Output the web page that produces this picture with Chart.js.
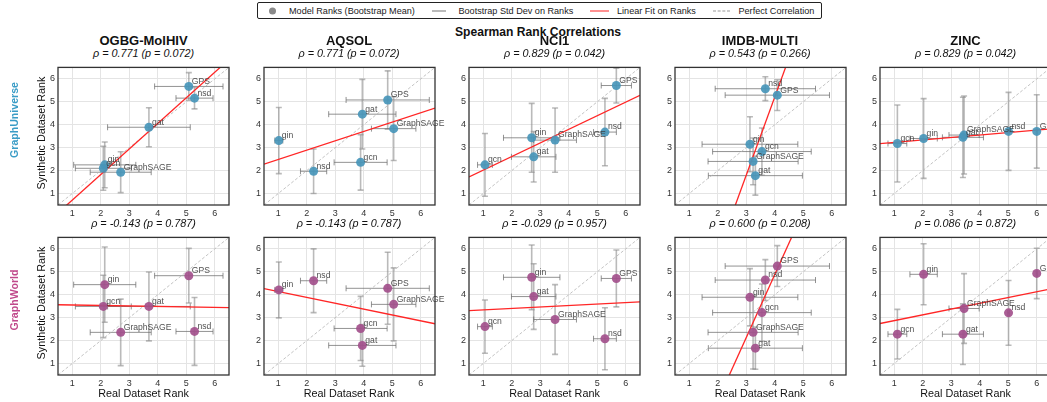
<!DOCTYPE html>
<html>
<head>
<meta charset="utf-8">
<script src="https://cdn.jsdelivr.net/npm/chart.js@4.4.1/dist/chart.umd.min.js"></script>
<style>
  html, body { margin: 0; padding: 0; background: #fff; }
  body { position: relative; width: 1047px; height: 402px; overflow: hidden;
         font-family: "Liberation Sans", Arial, sans-serif; color: #111; }
  .t { position: absolute; white-space: nowrap; transform: translate(-50%, -50%); }
  .rot { transform: translate(-50%, -50%) rotate(-90deg); }
  canvas { position: absolute; }
  #legend { position: absolute; left: 257px; top: 2px; width: 563px; height: 15px;
            border: 1px solid #222; border-radius: 2px; font-size: 9.1px; color: #222; }
  #legend span { position: absolute; top: 50%; transform: translateY(-50%); white-space: nowrap; }
  #legend .dot { width: 7px; height: 7px; border-radius: 50%; background: #8a8a8a; }
  #legend .ln { width: 14px; height: 0; border-top: 1px solid #777; }
</style>
</head>
<body>
<div id="legend">
  <span class="dot" style="left:10.5px"></span>
  <span style="left:31px">Model Ranks (Bootstrap Mean)</span>
  <span class="ln" style="left:173.5px"></span>
  <span style="left:200.5px">Bootstrap Std Dev on Ranks</span>
  <span class="ln" style="left:332px;width:19px;border-top:1.5px solid #ff2222"></span>
  <span style="left:359px">Linear Fit on Ranks</span>
  <span class="ln" style="left:455px;width:17px;border-top:1px dashed #999"></span>
  <span style="left:480.5px">Perfect Correlation</span>
</div>
<div class="t" style="left:538px;top:31.5px;font-weight:bold;font-size:12.1px">Spearman Rank Correlations</div>

<script>
// models in the order used by every rank/std array below
const models = ['GPS', 'nsd', 'gat', 'gin', 'gcn', 'GraphSAGE'];
const datasetNames = ['OGBG-MolHIV', 'AQSOL', 'NCI1', 'IMDB-MULTI', 'ZINC'];
const rankTicks = [1, 2, 3, 4, 5, 6];

// real dataset ranks (bootstrap mean / std), one row per dataset
const realRank = [
  [5.09, 5.29, 3.69, 2.14, 2.09, 2.70],
  [4.84, 2.24, 3.95, 1.02, 3.89, 5.05],
  [5.67, 5.27, 2.77, 2.70, 1.06, 3.52],
  [4.09, 3.67, 3.32, 3.13, 3.55, 3.24],
  [6.00, 5.01, 3.41, 2.03, 1.11, 3.45]
];
const realStd = [
  [1.20, 0.65, 1.45, 1.09, 0.98, 1.07],
  [1.46, 0.46, 1.18, 0.14, 0.93, 0.78],
  [0.53, 0.40, 0.78, 0.99, 0.26, 0.75],
  [1.83, 1.76, 1.65, 1.68, 1.73, 1.58],
  [0.02, 0.03, 0.72, 0.48, 0.33, 0.53]
];

// synthetic ranks from GraphUniverse
const universeRank = [
  [5.67, 5.16, 3.89, 2.25, 2.10, 1.93],
  [5.08, 1.97, 4.46, 3.31, 2.36, 3.83],
  [5.71, 3.68, 2.60, 3.43, 2.25, 3.33],
  [5.29, 5.57, 1.78, 3.15, 2.83, 2.40],
  [3.71, 3.71, 3.45, 3.40, 3.18, 3.55]
];
const universeStd = [
  [0.60, 0.47, 0.85, 1.00, 0.96, 0.89],
  [1.27, 0.97, 1.52, 1.44, 1.21, 1.39],
  [0.76, 1.47, 1.10, 1.50, 1.37, 1.40],
  [0.67, 0.52, 0.85, 1.20, 1.03, 1.02],
  [1.60, 1.70, 1.75, 1.74, 1.68, 1.70]
];
const universeRho = ['ρ = 0.771 (p = 0.072)', 'ρ = 0.771 (p = 0.072)', 'ρ = 0.829 (p = 0.042)',
                     'ρ = 0.543 (p = 0.266)', 'ρ = 0.829 (p = 0.042)'];

// synthetic ranks from GraphWorld
const worldRank = [
  [4.83, 2.40, 3.49, 4.44, 3.49, 2.36],
  [4.28, 4.61, 1.79, 4.21, 2.53, 3.58],
  [4.71, 2.08, 3.92, 4.76, 2.61, 2.92],
  [5.25, 4.64, 1.67, 3.89, 3.22, 2.36],
  [4.93, 3.21, 2.28, 4.89, 2.28, 3.40]
];
const worldStd = [
  [1.19, 1.48, 1.50, 1.64, 1.36, 1.45],
  [1.57, 1.39, 0.91, 1.22, 1.40, 1.59],
  [1.24, 1.35, 1.43, 1.41, 1.16, 1.52],
  [0.89, 0.89, 0.92, 1.25, 1.25, 1.60],
  [1.10, 1.41, 1.32, 1.33, 1.08, 1.52]
];
const worldRho = ['ρ = -0.143 (p = 0.787)', 'ρ = -0.143 (p = 0.787)', 'ρ = -0.029 (p = 0.957)',
                  'ρ = 0.600 (p = 0.208)', 'ρ = 0.086 (p = 0.872)'];

const rows = [
  { name: 'GraphUniverse', rank: universeRank, std: universeStd, rho: universeRho,
    dot: 'rgba(72,150,186,0.92)', label: '#3a9cc6', top: 61, labelY: 120 },
  { name: 'GraphWorld', rank: worldRank, std: worldStd, rho: worldRho,
    dot: 'rgba(163,80,140,0.92)', label: '#c0498b', top: 231, labelY: 300 }
];

const PLOT_W = 171, PLOT_H = 144, Y_AXIS_W = 24, X_AXIS_H = 16, RIGHT_PAD = 50;
const plotLefts = [58, 263.5, 469, 674.5, 880];

Chart.defaults.font.family = '"Liberation Sans", Arial, sans-serif';

function addText(txt, x, y, style, cls) {
  const d = document.createElement('div');
  d.className = 't' + (cls ? ' ' + cls : '');
  d.textContent = txt;
  d.style.left = x + 'px';
  d.style.top = y + 'px';
  Object.assign(d.style, style || {});
  document.body.appendChild(d);
}

function linFit(xs, ys) {
  const n = xs.length;
  const mx = xs.reduce((a, b) => a + b, 0) / n;
  const my = ys.reduce((a, b) => a + b, 0) / n;
  let sxy = 0, sxx = 0;
  for (let i = 0; i < n; i++) {
    sxy += (xs[i] - mx) * (ys[i] - my);
    sxx += (xs[i] - mx) * (xs[i] - mx);
  }
  const b = sxy / sxx;
  return { a: my - b * mx, b: b };
}

// error bars under the points, box + labels on top
const rankDecor = {
  id: 'rankDecor',
  beforeDatasetsDraw(chart) {
    const ctx = chart.ctx, xs = chart.scales.x, ys = chart.scales.y, area = chart.chartArea;
    const pts = chart.data.datasets[0].data;
    ctx.save();
    ctx.beginPath();
    ctx.rect(area.left, area.top, area.right - area.left, area.bottom - area.top);
    ctx.clip();
    const seg = (x0, y0, x1, y1) => { ctx.beginPath(); ctx.moveTo(x0, y0); ctx.lineTo(x1, y1); ctx.stroke(); };
    pts.forEach(p => {
      const px = xs.getPixelForValue(p.x), py = ys.getPixelForValue(p.y);
      const x0 = xs.getPixelForValue(p.x - p.xe), x1 = xs.getPixelForValue(p.x + p.xe);
      const y0 = ys.getPixelForValue(p.y - p.ye), y1 = ys.getPixelForValue(p.y + p.ye);
      ctx.strokeStyle = 'rgba(140,140,140,0.6)';
      ctx.lineWidth = 1.6;
      seg(px, y0, px, y1);
      seg(px - 3, y0, px + 3, y0);
      seg(px - 3, y1, px + 3, y1);
      ctx.strokeStyle = 'rgba(110,110,110,0.75)';
      ctx.lineWidth = 1;
      seg(x0, py, x1, py);
      seg(x0, py - 3, x0, py + 3);
      seg(x1, py - 3, x1, py + 3);
    });
    ctx.restore();
  },
  afterDraw(chart) {
    const ctx = chart.ctx, xs = chart.scales.x, ys = chart.scales.y, area = chart.chartArea;
    ctx.save();
    ctx.font = '8.6px "Liberation Sans", Arial, sans-serif';
    ctx.fillStyle = 'rgba(60,60,60,0.9)';
    ctx.textBaseline = 'middle';
    ctx.textAlign = 'left';
    chart.data.datasets[0].data.forEach(p => {
      ctx.fillText(p.name, xs.getPixelForValue(p.x) + 3, ys.getPixelForValue(p.y) - 5);
    });
    ctx.strokeStyle = '#333';
    ctx.lineWidth = 1.3;
    ctx.strokeRect(area.left, area.top, area.right - area.left, area.bottom - area.top);
    ctx.restore();
  }
};

function axis(fitFn) {
  return {
    type: 'linear', min: 0.5, max: 6.5,
    afterBuildTicks: s => { s.ticks = rankTicks.map(v => ({ value: v })); },
    afterFit: fitFn,
    grid: { color: '#e4e4e4', lineWidth: 1, drawTicks: false },
    border: { display: false },
    ticks: { font: { size: 9 }, color: '#333', padding: 3 }
  };
}

rows.forEach((row, r) => {
  datasetNames.forEach((ds, c) => {
    const left = plotLefts[c], top = row.top;
    const cv = document.createElement('canvas');
    cv.width = Y_AXIS_W + PLOT_W + RIGHT_PAD;
    cv.height = PLOT_H + X_AXIS_H + 2;
    cv.style.left = (left - Y_AXIS_W) + 'px';
    cv.style.top = (top - 2) + 'px';
    document.body.appendChild(cv);

    const pts = models.map((m, i) => ({
      x: realRank[c][i], y: row.rank[c][i], xe: realStd[c][i], ye: row.std[c][i], name: m
    }));
    const fit = linFit(realRank[c], row.rank[c]);

    new Chart(cv, {
      type: 'scatter',
      data: {
        datasets: [
          { data: pts, backgroundColor: row.dot, borderWidth: 0, pointRadius: 4.5, order: 0 },
          { type: 'line', data: [{ x: 0.5, y: fit.a + fit.b * 0.5 }, { x: 6.5, y: fit.a + fit.b * 6.5 }],
            borderColor: '#ff2626', borderWidth: 1.3, pointRadius: 0, order: 1 },
          { type: 'line', data: [{ x: 0.5, y: 0.5 }, { x: 6.5, y: 6.5 }],
            borderColor: '#b4b4b4', borderWidth: 0.8, borderDash: [3, 2], pointRadius: 0, order: 2 }
        ]
      },
      options: {
        responsive: false,
        animation: false,
        layout: { padding: { left: 0, top: 2, right: RIGHT_PAD, bottom: 0 } },
        plugins: { legend: { display: false }, tooltip: { enabled: false } },
        scales: {
          x: axis(s => { s.height = X_AXIS_H; }),
          y: axis(s => { s.width = Y_AXIS_W; })
        }
      },
      plugins: [rankDecor]
    });

    const cx = left + PLOT_W / 2;
    if (r === 0) addText(ds, cx, 40, { fontWeight: 'bold', fontSize: '13px' });
    addText(row.rho[c], cx, top - 8, { fontStyle: 'italic', fontSize: '10.8px' });
    if (r === 1) addText('Real Dataset Rank', cx, 393, { fontSize: '10.8px' });
    if (c === 0) addText('Synthetic Dataset Rank', 41, top + PLOT_H / 2, { fontSize: '10.8px' }, 'rot');
  });
  addText(row.name, 14, row.labelY, { fontWeight: 'bold', fontSize: '10.6px', color: row.label }, 'rot');
});
</script>
</body>
</html>
